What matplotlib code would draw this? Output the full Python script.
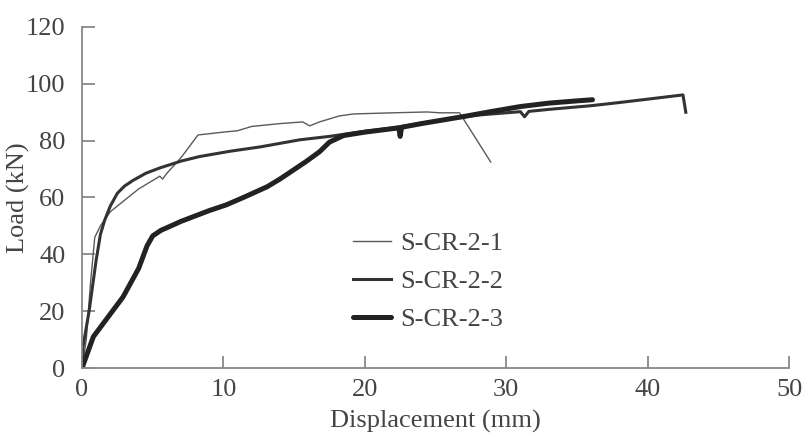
import matplotlib
matplotlib.use("Agg")
import matplotlib.pyplot as plt

plt.rcParams['font.family'] = ['Liberation Serif', 'DejaVu Serif']

# S-CR-2-1 (thin)
x1 = [0, 0.3, 0.6, 0.9, 1.3, 2.0, 3.0, 4.0, 5.5, 5.7, 6.0, 7.0, 8.2, 10, 11, 12, 14,
      15.6, 16.1, 16.8, 18.2, 19.2, 22, 24.4, 25.3, 26.7, 28.9]
y1 = [0, 10, 30, 46, 50, 55, 59, 63, 67.5, 66.5, 68.5, 74, 82, 83, 83.5, 85, 86,
      86.6, 85.2, 86.6, 88.7, 89.4, 89.8, 90.1, 89.8, 89.8, 72.5]

# S-CR-2-2 (medium)
x2 = [0, 0.05, 0.5, 1.0, 1.3, 1.6, 2.0, 2.5, 3.0, 3.6, 4.5, 5.5, 7.0, 8.3, 10.5,
      12.6, 15.4, 17.5, 20, 22, 25, 28, 31.0, 31.3, 31.6, 33, 36, 37.8, 40, 42.5, 42.7]
y2 = [0, 7, 20, 38, 47, 52, 57, 61.5, 64, 66, 68.5, 70.4, 72.8, 74.4, 76.3,
      77.8, 80.3, 81.5, 83.3, 84.5, 87, 89, 90.2, 88.4, 90.3, 91, 92.3, 93.3, 94.6, 96.1, 90]

# S-CR-2-3 (thick)
x3 = [0, 0.8, 2.0, 2.9, 4.0, 4.6, 5.0, 5.6, 6.2, 7.0, 8.0, 9.0, 10.2, 11.5, 13.1,
      14.0, 14.9, 15.8, 16.8, 17.5, 18.5, 20, 22.4, 22.5, 22.6, 24, 27, 29, 31, 33, 35, 36.1]
y3 = [0, 11, 19, 25, 35, 43, 46.5, 48.5, 49.8, 51.6, 53.5, 55.4, 57.4, 60.2, 63.8,
      66.5, 69.5, 72.5, 76.1, 79.5, 81.8, 83, 84.5, 81.5, 84.7, 86, 88.5, 90.3, 92, 93.2, 94, 94.4]

labels = ['S-CR-2-1', 'S-CR-2-2', 'S-CR-2-3']
xticks = [0, 10, 20, 30, 40, 50]
yticks = [0, 20, 40, 60, 80, 100, 120]

fig = plt.figure(figsize=(8.09, 4.38), dpi=100)
ax = fig.add_axes([0.1014, 0.1598, 0.8739, 0.7786])

ax.plot(x1, y1, color='#5a5a5a', lw=1.0, label=labels[0])
ax.plot(x2, y2, color='#333333', lw=2.2, label=labels[1])
ax.plot(x3, y3, color='#222222', lw=3.6, label=labels[2], solid_capstyle='round',
        solid_joinstyle='round')

ax.set_xlim(0, 50)
ax.set_ylim(0, 120)
ax.set_xticks(xticks)
ax.set_yticks(yticks)
for s in ['top', 'right']:
    ax.spines[s].set_visible(False)
for s in ['left', 'bottom']:
    ax.spines[s].set_color('#888888')
    ax.spines[s].set_linewidth(1.3)
ax.tick_params(axis='both', direction='in', length=9, width=1.3, color='#888888',
               labelsize=19, labelcolor='#444444')
ax.tick_params(axis='x', pad=8)
ax.tick_params(axis='y', pad=12)

ax.set_xlabel('Displacement (mm)', fontsize=19, color='#444444', labelpad=6)
ax.set_ylabel('Load (kN)', fontsize=19, color='#444444')
ax.yaxis.set_label_coords(-0.074, 0.5)

leg = ax.legend(loc='upper left', bbox_to_anchor=(0.383, 0.40), frameon=False,
                borderpad=0, borderaxespad=0,
                fontsize=19, handlelength=1.45, handletextpad=0.35, labelspacing=0.55,
                labelcolor='#444444')

fig.savefig('out.png', dpi=100, facecolor='white')
